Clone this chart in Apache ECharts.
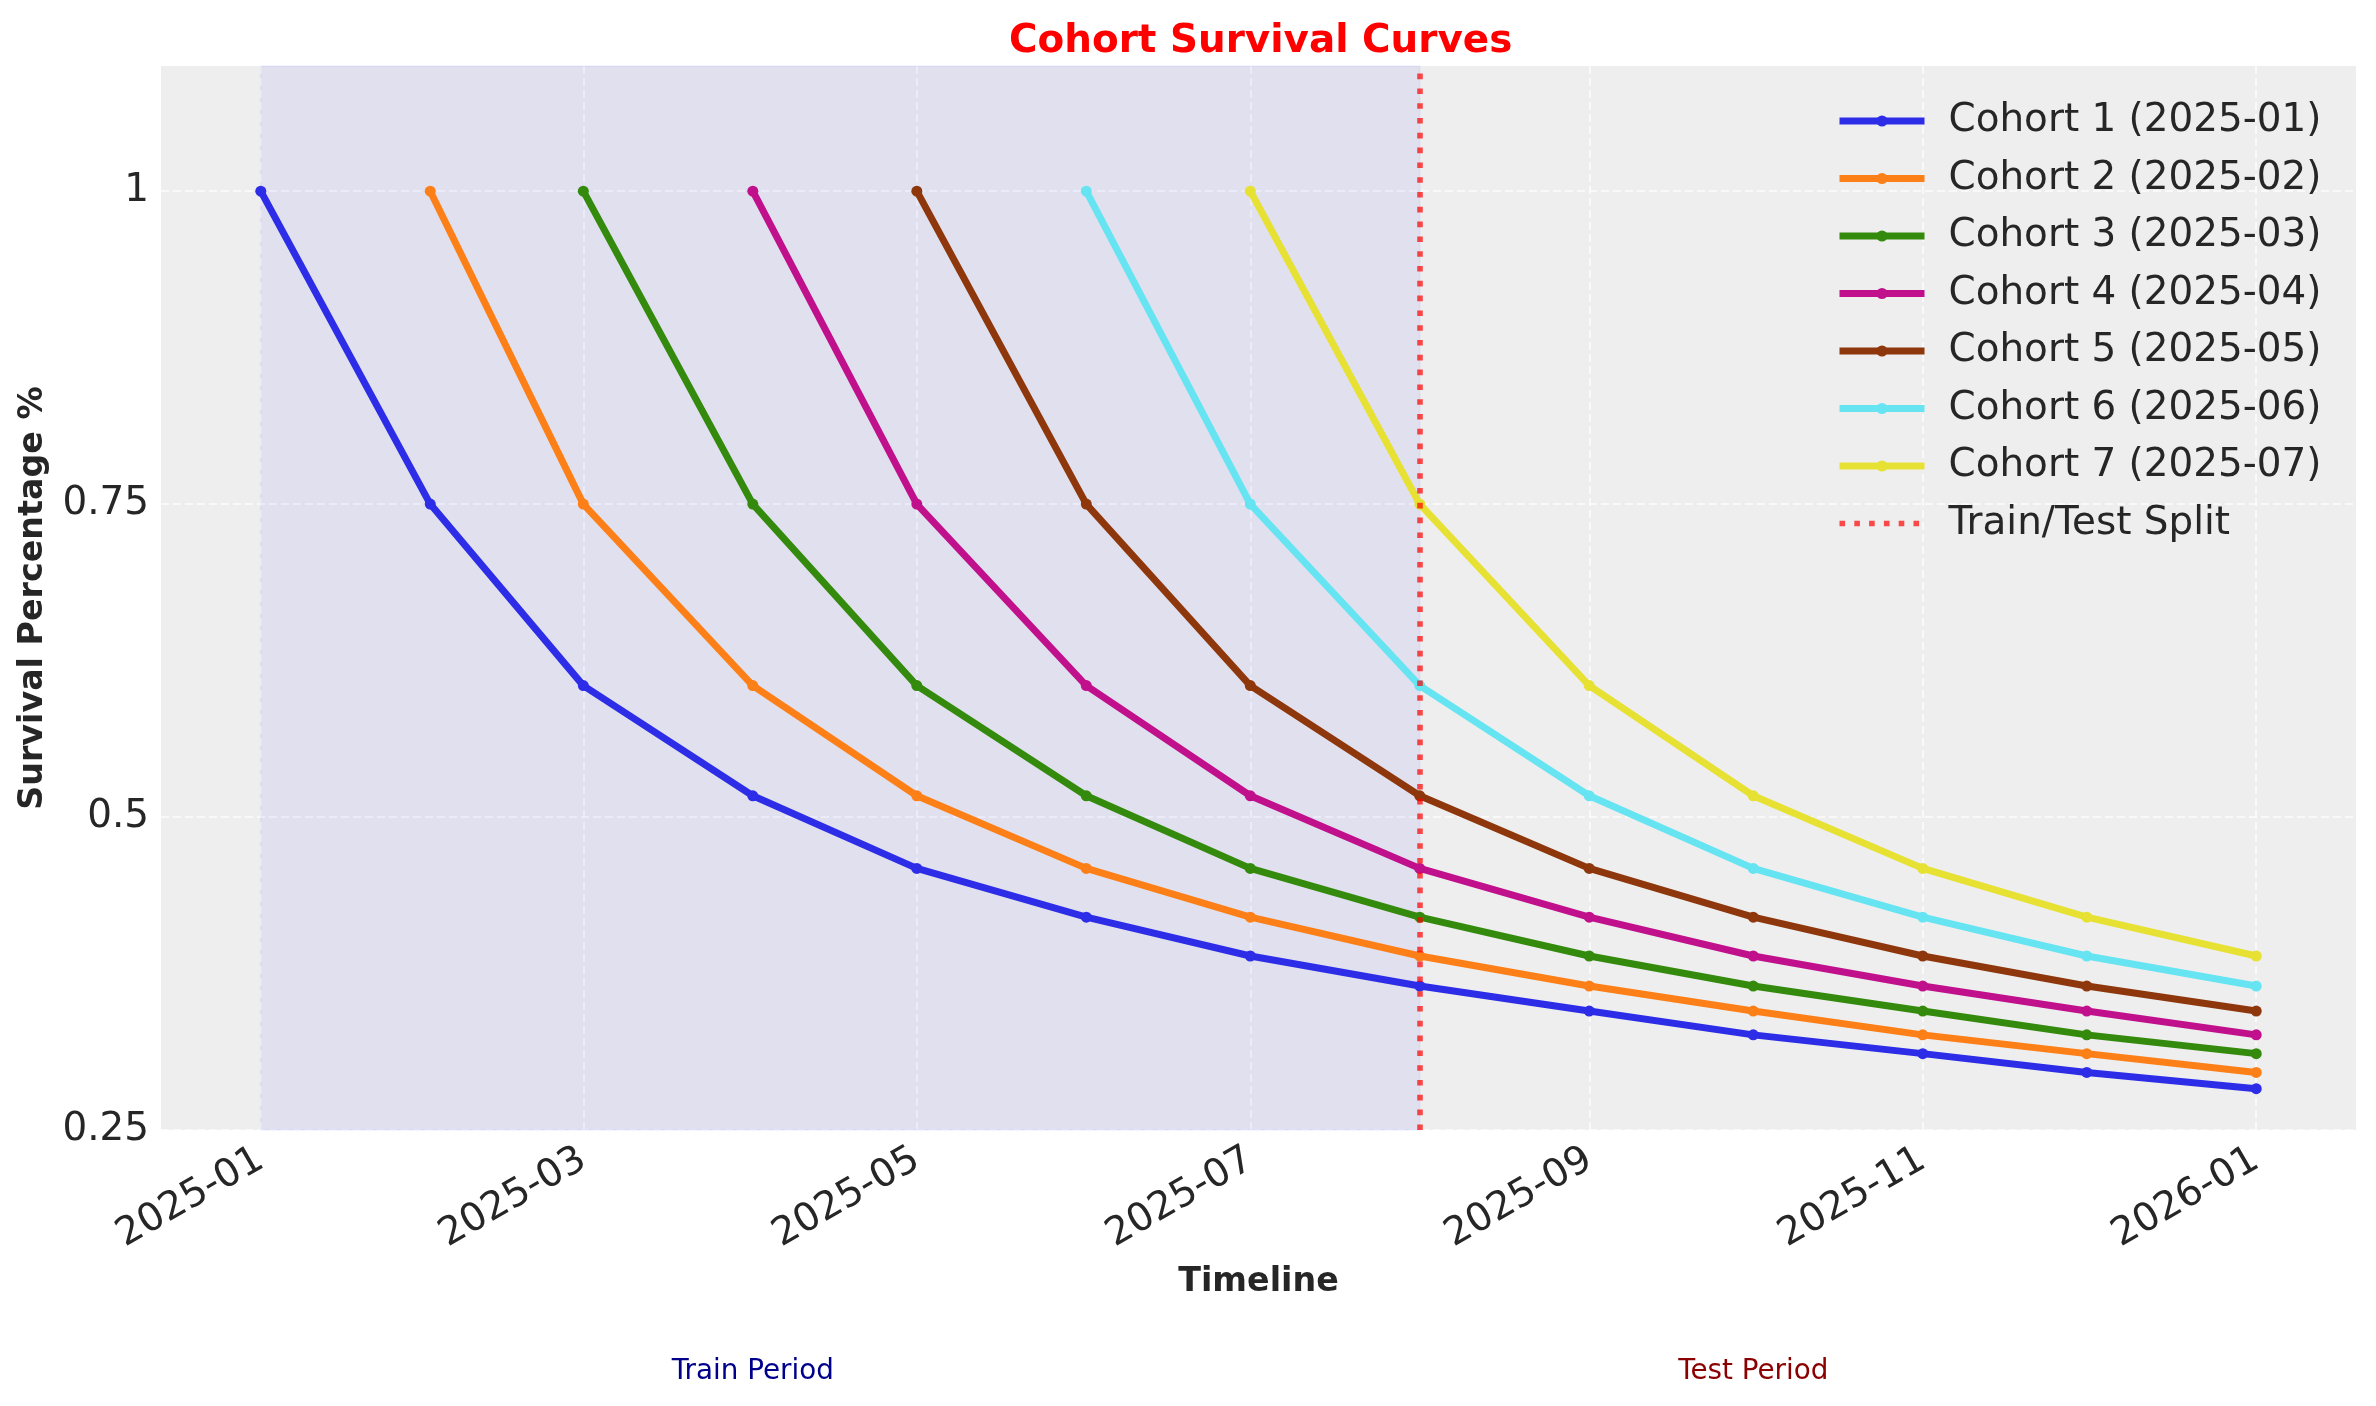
<!DOCTYPE html>
<html>
<head>
<meta charset="utf-8">
<title>Cohort Survival Curves</title>
<script src="https://cdn.jsdelivr.net/npm/echarts@6/dist/echarts.min.js"></script>
<style>
    html, body { margin: 0; padding: 0; background: #ffffff; }
    #chart { width: 2376px; height: 1406px; }
</style>
</head>
<body>
<div id="chart"></div>
<script>
/* 时间轴上的月份 */
var months = ['2025-01', '2025-02', '2025-03', '2025-04', '2025-05', '2025-06', '2025-07',
              '2025-08', '2025-09', '2025-10', '2025-11', '2025-12', '2026-01'];

/* 各cohort的名称与留存值（从各自起始月份开始） */
var cohortNames = ['Cohort 1 (2025-01)', 'Cohort 2 (2025-02)', 'Cohort 3 (2025-03)', 'Cohort 4 (2025-04)',
                   'Cohort 5 (2025-05)', 'Cohort 6 (2025-06)', 'Cohort 7 (2025-07)'];
var cohort1 = [1, 0.75, 0.605, 0.517, 0.459, 0.42, 0.389, 0.365, 0.345, 0.326, 0.311, 0.296, 0.283];
var cohort2 = [1, 0.75, 0.605, 0.517, 0.459, 0.42, 0.389, 0.365, 0.345, 0.326, 0.311, 0.296];
var cohort3 = [1, 0.75, 0.605, 0.517, 0.459, 0.42, 0.389, 0.365, 0.345, 0.326, 0.311];
var cohort4 = [1, 0.75, 0.605, 0.517, 0.459, 0.42, 0.389, 0.365, 0.345, 0.326];
var cohort5 = [1, 0.75, 0.605, 0.517, 0.459, 0.42, 0.389, 0.365, 0.345];
var cohort6 = [1, 0.75, 0.605, 0.517, 0.459, 0.42, 0.389, 0.365];
var cohort7 = [1, 0.75, 0.605, 0.517, 0.459, 0.42, 0.389];
var cohortValues = [cohort1, cohort2, cohort3, cohort4, cohort5, cohort6, cohort7];

/* 刻度 */
var xTickLabels = ['2025-01', '2025-03', '2025-05', '2025-07', '2025-09', '2025-11', '2026-01'];
var yTicks = [0.25, 0.5, 0.75, 1];

/* 训练/测试划分 */
var trainStart = '2025-01';
var splitMonth = '2025-08';
var periodLabels = [
    { text: 'Train Period', month: '2025-04' },
    { text: 'Test Period', month: '2025-10' }
];

/* 样式 */
var palette = ['#2d2de8', '#fd7f17', '#348a0c', '#c0108c', '#8f370c', '#66e4f2', '#e6e132'];
var textColor = '#262626';
var font = 'DejaVu Sans';

function toTime(m) {
    var p = m.split('-');
    return new Date(+p[0], +p[1] - 1, 1).getTime();
}
function pad(n) { return n < 10 ? '0' + n : '' + n; }

var firstT = toTime(months[0]);
var lastT = toTime(months[months.length - 1]);
var marginT = (lastT - firstT) * 0.05;

var series = cohortNames.map(function (name, i) {
    return {
        name: name,
        type: 'line',
        z: 3,
        data: cohortValues[i].map(function (v, k) { return [toTime(months[i + k]), v]; }),
        symbol: 'circle',
        symbolSize: 11,
        color: palette[i],
        lineStyle: { width: 7, color: palette[i] },
        itemStyle: { color: palette[i] },
        emphasis: { disabled: true }
    };
});

/* 划分线 + 训练区阴影 */
series.push({
    name: 'Train/Test Split',
    type: 'line',
    z: 4,
    data: [],
    symbol: 'none',
    color: 'rgba(255,0,0,0.7)',
    lineStyle: { width: 5.6, color: 'rgba(255,0,0,0.7)', type: [5.6, 9.2] },
    markLine: {
        silent: true,
        symbol: 'none',
        label: { show: false },
        lineStyle: { width: 5.6, color: 'rgba(255,0,0,0.7)', type: [5.6, 9.2] },
        data: [{ xAxis: toTime(splitMonth) }]
    },
    markArea: {
        silent: true,
        itemStyle: { color: 'rgba(0,0,255,0.055)', borderColor: 'rgba(0,0,255,0.04)', borderWidth: 2 },
        data: [[{ xAxis: toTime(trainStart) }, { xAxis: toTime(splitMonth) }]]
    }
});

var legendData = cohortNames.map(function (n) { return { name: n }; });
legendData.push({ name: 'Train/Test Split', itemStyle: { opacity: 0 } });

var chart = echarts.init(document.getElementById('chart'));
chart.setOption({
    animation: false,
    backgroundColor: '#ffffff',
    textStyle: { fontFamily: font },
    title: {
        text: 'Cohort Survival Curves',
        left: 1004,
        top: 17,
        textStyle: { color: '#ff0000', fontSize: 38.9, fontWeight: 'bold', fontFamily: font }
    },
    legend: {
        data: legendData,
        orient: 'vertical',
        left: 1836,
        top: 101,
        padding: 0,
        itemWidth: 85,
        itemHeight: 14,
        itemGap: 17.5,
        lineStyle: { width: 'inherit' },
        textStyle: { fontSize: 38.9, lineHeight: 40, color: textColor, fontFamily: font, padding: [0, 0, 0, 19] }
    },
    grid: { left: 161, right: 20, top: 66, bottom: 276, backgroundColor: '#eeeeee', show: true, borderWidth: 0 },
    xAxis: {
        type: 'value',
        min: firstT - marginT,
        max: lastT + marginT,
        name: 'Timeline',
        nameLocation: 'middle',
        nameGap: 136,
        nameTextStyle: { fontSize: 33.3, fontWeight: 'bold', color: textColor, fontFamily: font },
        axisLine: { show: false },
        axisTick: { show: false, customValues: xTickLabels.map(toTime) },
        axisLabel: {
            customValues: xTickLabels.map(toTime),
            rotate: 30,
            margin: 27,
            fontSize: 38.9,
            color: textColor,
            fontFamily: font,
            formatter: function (v) {
                var d = new Date(v);
                return d.getFullYear() + '-' + pad(d.getMonth() + 1);
            }
        },
        splitLine: { show: true, lineStyle: { color: 'rgba(255,255,255,0.65)', width: 2, type: [8, 4] } }
    },
    yAxis: {
        type: 'value',
        min: 0.25,
        max: 1.1,
        name: 'Survival Percentage %',
        nameLocation: 'middle',
        nameGap: 111,
        nameTextStyle: { fontSize: 33.3, fontWeight: 'bold', color: textColor, fontFamily: font },
        axisLine: { show: false },
        axisTick: { show: false, customValues: yTicks },
        axisLabel: { customValues: yTicks, margin: 12, fontSize: 38.9, color: textColor, fontFamily: font },
        splitLine: { show: true, lineStyle: { color: 'rgba(255,255,255,0.65)', width: 2, type: [8, 4] } }
    },
    series: series
});

/* 底部的 Train / Test 说明文字，按数据坐标定位 */
chart.setOption({
    graphic: periodLabels.map(function (p, i) {
        return {
            type: 'text',
            x: chart.convertToPixel({ xAxisIndex: 0 }, toTime(p.month)),
            y: 1372,
            style: {
                text: p.text,
                fill: i === 0 ? '#00008b' : '#8b0000',
                fontSize: 27.8,
                fontFamily: font,
                align: 'center',
                verticalAlign: 'middle'
            }
        };
    })
});
</script>
</body>
</html>
